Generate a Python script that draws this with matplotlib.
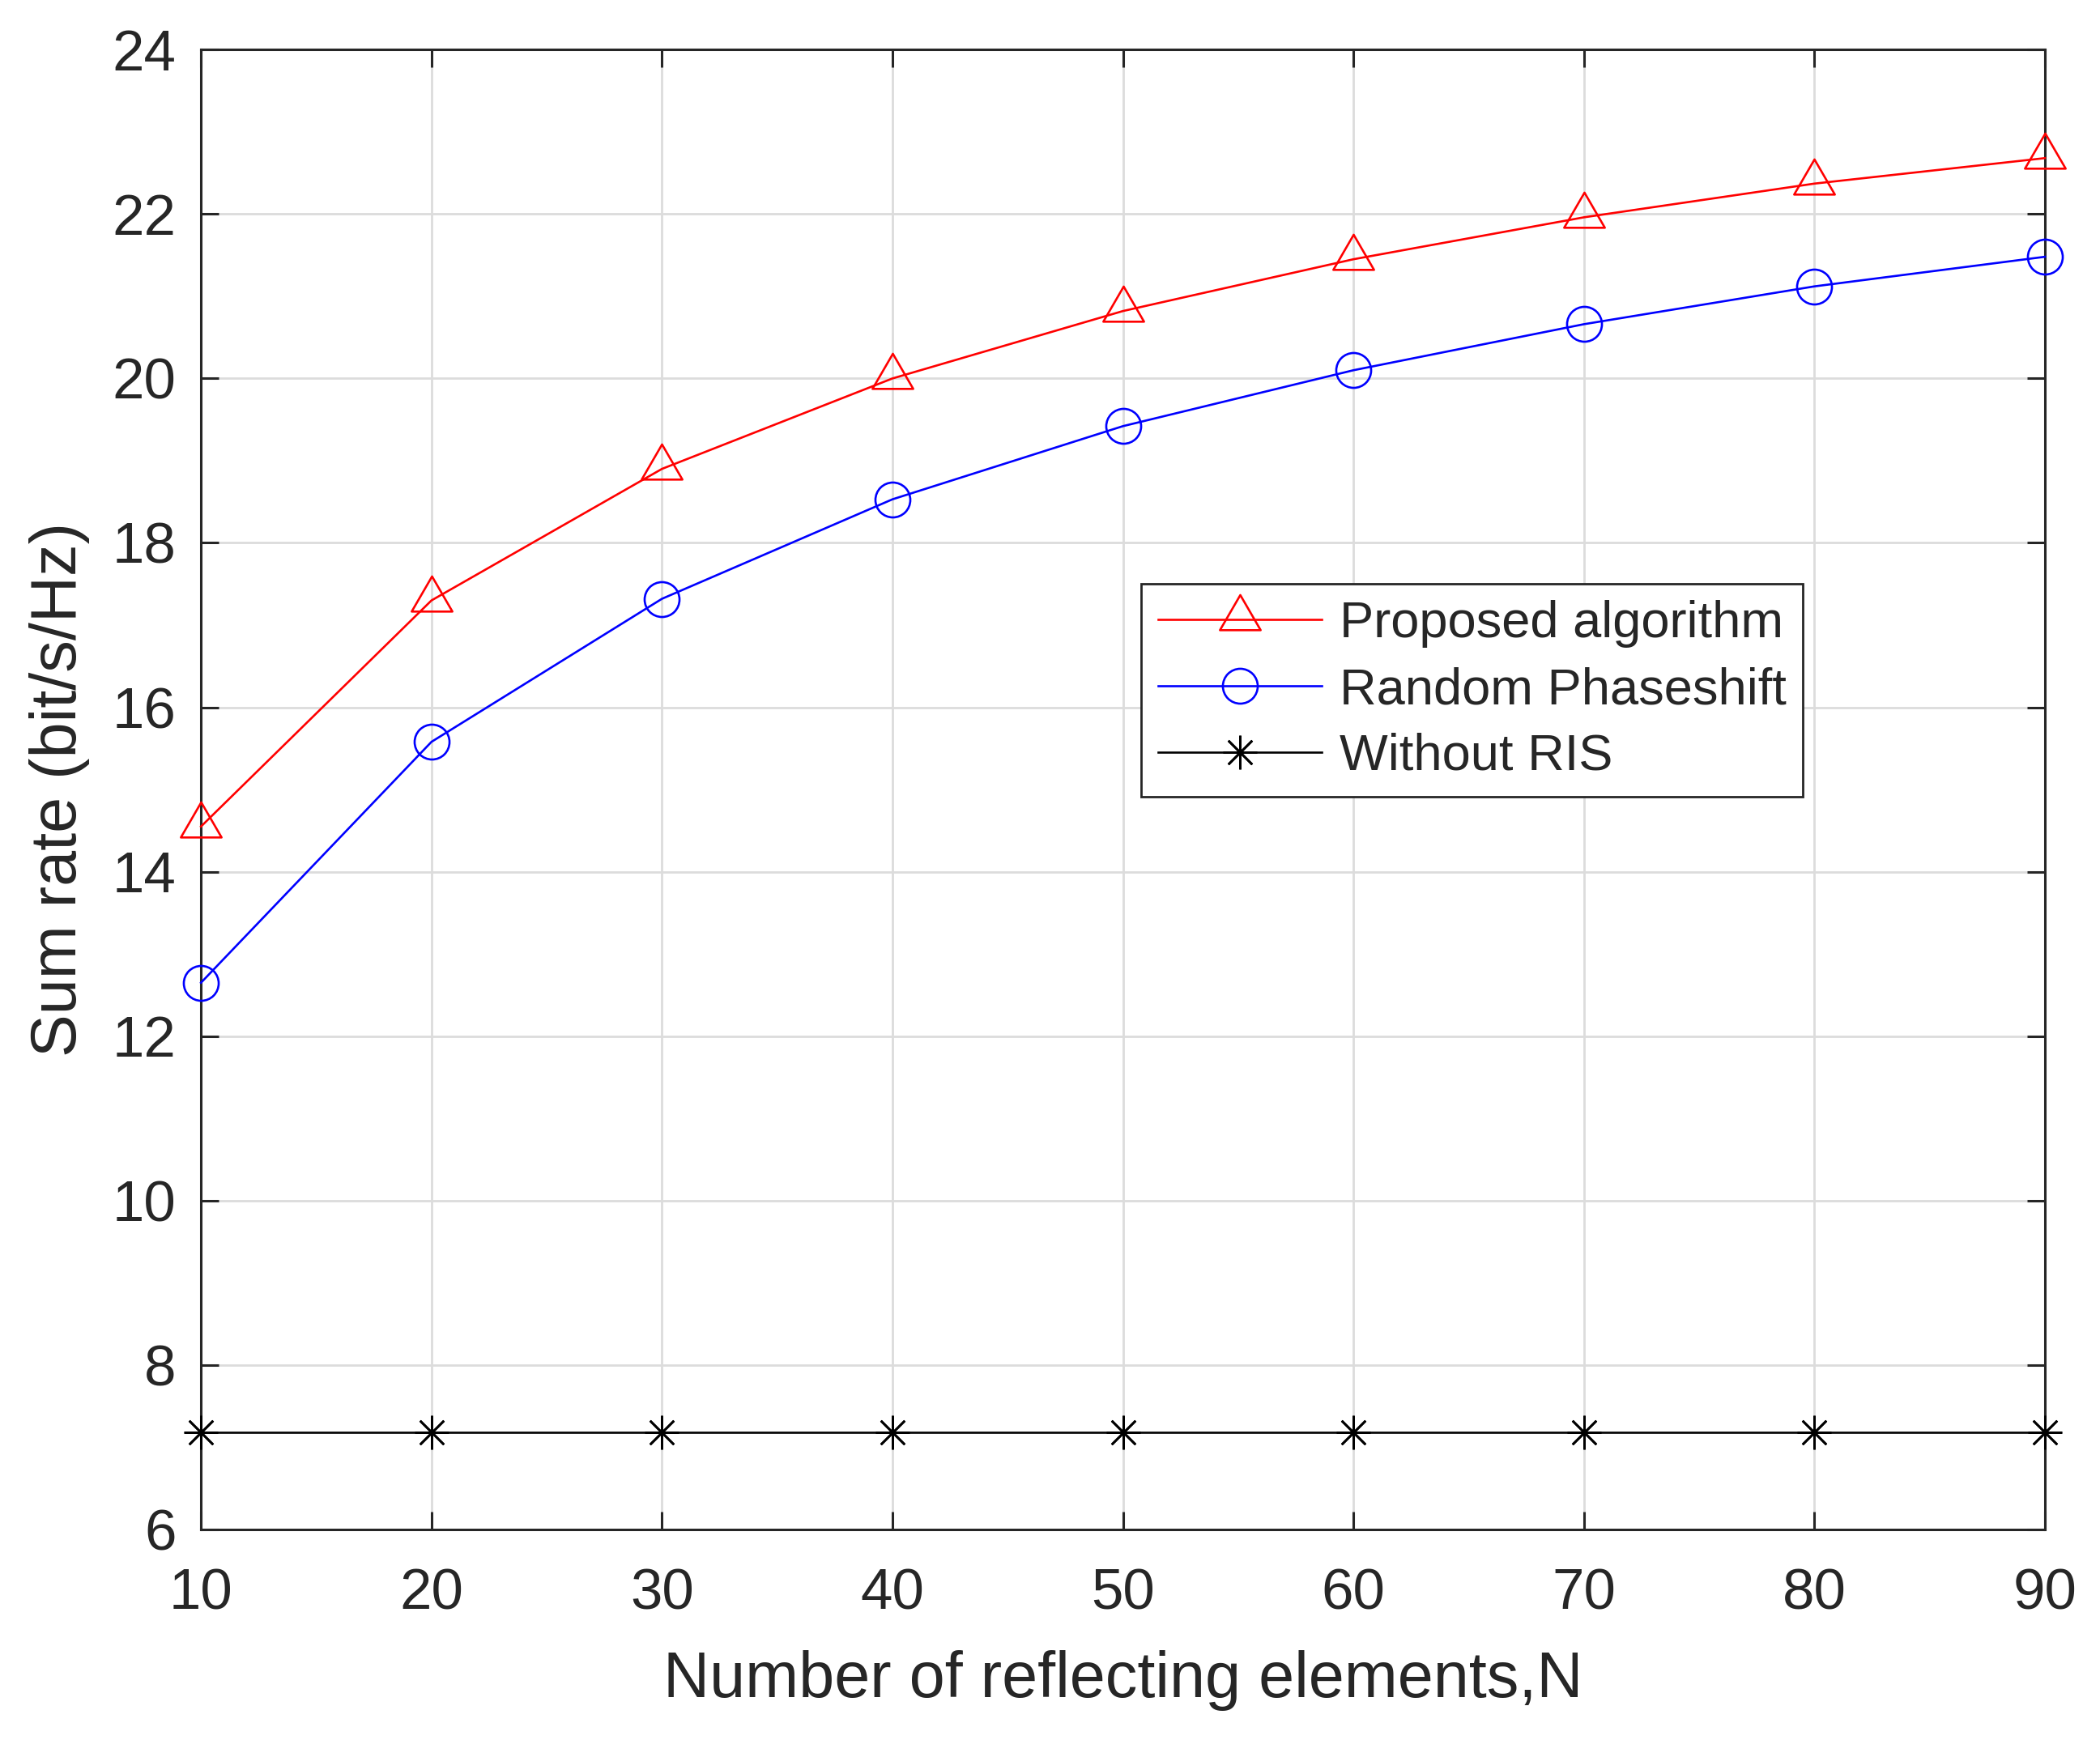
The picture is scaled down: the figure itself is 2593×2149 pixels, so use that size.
import matplotlib
matplotlib.use("Agg")
import matplotlib.pyplot as plt
from matplotlib.path import Path

N = [10, 20, 30, 40, 50, 60, 70, 80, 90]
proposed = [14.55, 17.30, 18.90, 20.00, 20.82, 21.45, 21.96, 22.37, 22.68]
random_ps = [12.65, 15.58, 17.32, 18.53, 19.42, 20.10, 20.66, 21.12, 21.48]
without_ris = [7.18] * 9

labels = ["Proposed algorithm", "Random Phaseshift", "Without RIS"]
xticks = [10, 20, 30, 40, 50, 60, 70, 80, 90]
yticks = [6, 8, 10, 12, 14, 16, 18, 20, 22, 24]

TXT = "#262626"
plt.rcParams['font.family'] = ['Liberation Sans', 'DejaVu Sans']

# MATLAB-like triangle marker: data point sits low inside the triangle
tri = Path([(0, 31), (-25.5, -13), (25.5, -13), (0, 31)],
           [Path.MOVETO, Path.LINETO, Path.LINETO, Path.CLOSEPOLY])

fig = plt.figure(figsize=(25.93, 21.49), dpi=100)
ax = fig.add_axes([0.0957, 0.121, 0.8781, 0.8505])

lw = 1.9
ax.plot(N, proposed, color=(1, 0, 0), lw=lw, marker=tri, ms=44, mfc='none', mew=lw,
        label=labels[0], clip_on=False, zorder=3)
ax.plot(N, random_ps, color=(0, 0, 1), lw=lw, marker='o', ms=31, mfc='none', mew=lw,
        label=labels[1], clip_on=False, zorder=3)
ax.plot(N, without_ris, color='black', lw=lw, marker=(8, 2, 0), ms=30, mew=lw,
        label=labels[2], clip_on=False, zorder=3)

ax.set_xlim(10, 90)
ax.set_ylim(6, 24)
ax.set_xticks(xticks)
ax.set_yticks(yticks)
ax.grid(True, color='#dcdcdc', lw=2.0)
ax.set_axisbelow(True)
for s in ax.spines.values():
    s.set_color(TXT)
    s.set_linewidth(2.2)
    s.set_zorder(2.5)
ax.tick_params(direction='in', length=16, width=2.2, colors=TXT, labelsize=51,
               top=True, right=True)
ax.tick_params(axis='x', pad=34)
ax.tick_params(axis='y', pad=22)

ax.set_xlabel("Number of reflecting elements,N", fontsize=57, color=TXT, labelpad=26)
ax.set_ylabel("Sum rate (bit/s/Hz)", fontsize=57, color=TXT, labelpad=20)

leg = ax.legend(loc='upper left', bbox_to_anchor=(0.51, 0.639), borderaxespad=0,
                fontsize=45.5, handlelength=3.2, handletextpad=0.35, labelspacing=0.36,
                fancybox=False, framealpha=1, edgecolor=TXT, borderpad=0.32)
leg.get_frame().set_linewidth(2.0)
leg.set_zorder(5)
for t in leg.get_texts():
    t.set_color(TXT)

fig.savefig("out.png", dpi=100)
